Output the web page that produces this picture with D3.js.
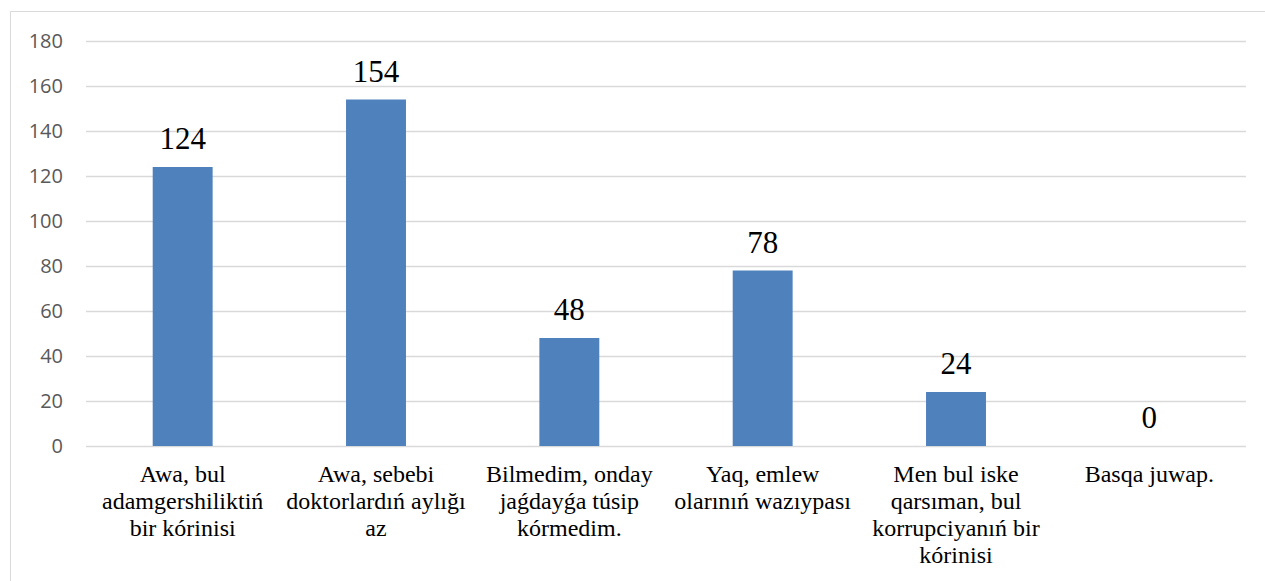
<!DOCTYPE html>
<html>
<head>
<meta charset="utf-8">
<script src="https://cdn.jsdelivr.net/npm/d3@7"></script>
<style>
  body { margin: 0; background: #fff; }
  svg { display: block; }
  .serif { font-family: "Liberation Serif", "DejaVu Serif", serif; }
  .ticklab { font-family: "Open Sans", sans-serif; }
</style>
</head>
<body>
<svg id="chart"></svg>
<script>
// chart data
var categories = [
  "Awa, bul\nadamgershiliktiń\nbir kórinisi",
  "Awa, sebebi\ndoktorlardıń aylığı\naz",
  "Bilmedim, onday\njaǵdayǵa túsip\nkórmedim.",
  "Yaq, emlew\nolarınıń wazıypası",
  "Men bul iske\nqarsıman, bul\nkorrupciyanıń bir\nkórinisi",
  "Basqa juwap."
];
var values = [124, 154, 48, 78, 24, 0];
var yTicks = [0, 20, 40, 60, 80, 100, 120, 140, 160, 180];

var width = 1265, height = 581;
var margin = {top: 41, right: 19, bottom: 135, left: 86};

var svg = d3.select("#chart").attr("width", width).attr("height", height);

// outer frame (cut off on the right and bottom)
svg.append("path")
  .attr("d", "M10.5," + height + "V11.5H" + width)
  .attr("fill", "none")
  .attr("stroke", "#d9d9d9");

var x = d3.scaleBand()
  .domain(d3.range(categories.length))
  .range([margin.left, width - margin.right])
  .paddingInner(0.69)
  .paddingOuter(0.345);

var y = d3.scaleLinear()
  .domain([0, 180])
  .range([height - margin.bottom, margin.top]);

// gridlines + y labels
var yAxis = d3.axisLeft(y)
  .tickValues(yTicks)
  .tickSize(-(width - margin.right - margin.left))
  .tickPadding(23);

var gy = svg.append("g")
  .attr("transform", "translate(" + margin.left + ",0)")
  .call(yAxis);
gy.attr("font-family", null).attr("font-size", null);
gy.select(".domain").remove();
gy.selectAll(".tick line").attr("stroke", "#d9d9d9").attr("stroke-width", 1.3);
gy.selectAll(".tick text")
  .attr("class", "ticklab")
  .attr("fill", "#595959")
  .attr("font-size", "20px");

// bars
svg.append("g").selectAll("rect")
  .data(values)
  .join("rect")
  .attr("x", function(d, i) { return x(i); })
  .attr("y", function(d) { return y(d); })
  .attr("width", x.bandwidth())
  .attr("height", function(d) { return y(0) - y(d); })
  .attr("fill", "#4f81bd");

// value labels
svg.append("g").selectAll("text")
  .data(values)
  .join("text")
  .attr("class", "serif")
  .attr("x", function(d, i) { return x(i) + x.bandwidth() / 2; })
  .attr("y", function(d) { return y(d) - 18; })
  .attr("text-anchor", "middle")
  .attr("font-size", "31px")
  .attr("fill", "#000")
  .text(function(d) { return d; });

// category labels
var cat = svg.append("g").selectAll("text")
  .data(categories)
  .join("text")
  .attr("class", "serif")
  .attr("x", function(d, i) { return x(i) + x.bandwidth() / 2; })
  .attr("y", y(0) + 36.3)
  .attr("text-anchor", "middle")
  .attr("font-size", "24px")
  .attr("fill", "#000");

cat.selectAll("tspan")
  .data(function(d) { return d.split("\n"); })
  .join("tspan")
  .attr("x", function() { return d3.select(this.parentNode).attr("x"); })
  .attr("dy", function(d, i) { return i === 0 ? 0 : 26.8; })
  .text(function(d) { return d; });
</script>
</body>
</html>
